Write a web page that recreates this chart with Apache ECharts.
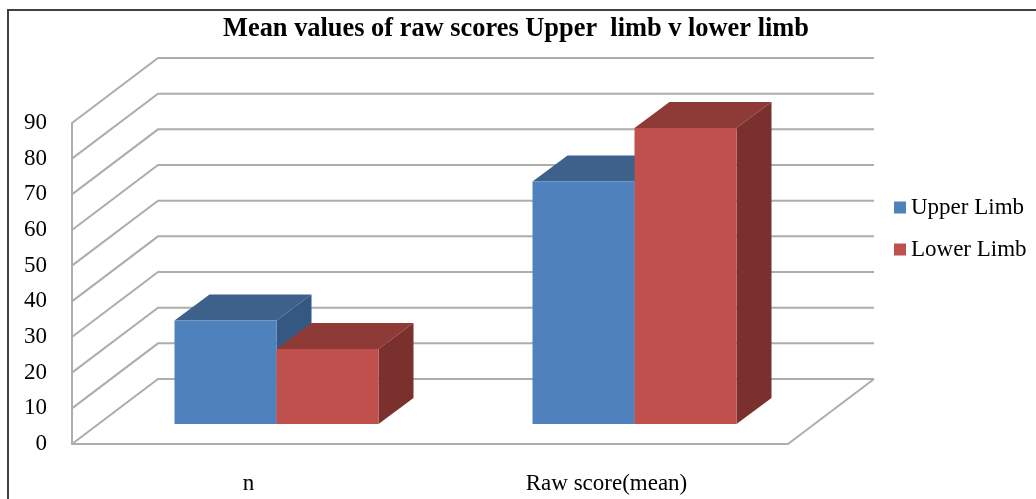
<!DOCTYPE html>
<html>
<head>
<meta charset="utf-8">
<style>html,body{margin:0;padding:0;background:#fff}#c{width:1036px;height:499px}</style>
<script src="https://cdn.jsdelivr.net/npm/echarts@6/dist/echarts.min.js"></script>
</head>
<body>
<div id="c"></div>
<script>
var categories = ['n', 'Raw score(mean)'];
var upperLimb = [29, 68];
var lowerLimb = [21, 83];
var yTicks = [0, 10, 20, 30, 40, 50, 60, 70, 80, 90];
var titleText = 'Mean values of raw scores Upper  limb v lower limb';

var FONT = '"Liberation Serif","Times New Roman",serif';
var wallDepth = [86, -65];
var barOffset = [25.5, -20];
var barDepth = [35, -26];
var barWidth = 102;

function wallItem(params, api) {
  var v = api.value(0);
  var p = api.coord([0, v]);
  var cs = params.coordSys;
  var x0 = cs.x, y = p[1];
  return {
    type: 'polyline',
    shape: { points: [[x0, y], [x0 + wallDepth[0], y + wallDepth[1]], [x0 + cs.width + wallDepth[0], y + wallDepth[1]]] },
    style: { fill: null, stroke: '#adadad', lineWidth: 2 }
  };
}
function floorEdge(params, api) {
  var cs = params.coordSys;
  var y = api.coord([0, 0])[1];
  var x = cs.x + cs.width;
  return {
    type: 'line',
    shape: { x1: x, y1: y, x2: x + wallDepth[0], y2: y + wallDepth[1] },
    style: { stroke: '#adadad', lineWidth: 2 }
  };
}
function barRenderer(slot, front, top, side) {
  return function (params, api) {
    var c = api.value(0), v = api.value(1);
    var pt = api.coord([c, v]), pb = api.coord([c, 0]);
    var xl = pt[0] + barOffset[0] + slot * barWidth;
    var xr = xl + barWidth;
    var yt = pt[1] + barOffset[1];
    var yb = pb[1] + barOffset[1];
    var dx = barDepth[0], dy = barDepth[1];
    return {
      type: 'group',
      children: [
        { type: 'polygon', shape: { points: [[xl, yt], [xr, yt], [xr + dx, yt + dy], [xl + dx, yt + dy]] }, style: { fill: top } },
        { type: 'polygon', shape: { points: [[xr, yt], [xr + dx, yt + dy], [xr + dx, yb + dy], [xr, yb]] }, style: { fill: side } },
        { type: 'rect', shape: { x: xl, y: yt, width: barWidth, height: yb - yt }, style: { fill: front } }
      ]
    };
  };
}
function barData(vals) { return vals.map(function (v, i) { return [i, v]; }); }

var chart = echarts.init(document.getElementById('c'), null, { renderer: 'canvas' });
chart.setOption({
  animation: false,
  backgroundColor: '#fff',
  title: {
    text: titleText, left: 511, top: 11, textAlign: 'center',
    textStyle: { fontFamily: FONT, fontSize: 26.4, fontWeight: 'bold', color: '#000' }
  },
  legend: {
    orient: 'vertical', left: 889, top: 191, itemWidth: 12, itemHeight: 12, itemGap: 19,
    data: ['Upper Limb', 'Lower Limb'], icon: 'rect',
    textStyle: { fontFamily: FONT, fontSize: 23, color: '#000' }
  },
  grid: { left: 72, right: 248, top: 123, bottom: 55 },
  xAxis: {
    type: 'category', data: categories,
    axisLine: { show: true, lineStyle: { color: '#adadad', width: 2 } },
    axisTick: { show: false },
    axisLabel: { fontFamily: FONT, fontSize: 23, color: '#000', margin: 28, padding: [0, 5, 0, 0] }
  },
  yAxis: {
    type: 'value', min: 0, max: 90, interval: 10,
    splitLine: { show: false },
    axisLine: { show: true, lineStyle: { color: '#adadad', width: 2 } },
    axisTick: { show: false },
    axisLabel: { fontFamily: FONT, fontSize: 23, color: '#000', margin: 25, padding: [4, 0, 0, 0] }
  },
  graphic: [{
    type: 'polyline', silent: true, z: -1,
    shape: { points: [[8, 499], [8, 10], [1036, 10]] },
    style: { fill: null, stroke: '#404040', lineWidth: 2 }
  }],
  series: [
    { type: 'custom', name: 'walls', coordinateSystem: 'cartesian2d', z: 1, silent: true, renderItem: wallItem,
      data: yTicks.map(function (t) { return [t]; }), encode: { y: 0 } },
    { type: 'custom', name: 'floor', coordinateSystem: 'cartesian2d', z: 1, silent: true, renderItem: floorEdge,
      data: [[0]], encode: { y: 0 } },
    { type: 'custom', name: 'Upper Limb', coordinateSystem: 'cartesian2d', z: 3,
      renderItem: barRenderer(-1, '#4F81BD', '#3E618C', '#345882'),
      itemStyle: { color: '#4F81BD' }, data: barData(upperLimb), encode: { x: 0, y: 1 } },
    { type: 'custom', name: 'Lower Limb', coordinateSystem: 'cartesian2d', z: 4,
      renderItem: barRenderer(0, '#C0504D', '#8E3A37', '#7A302D'),
      itemStyle: { color: '#C0504D' }, data: barData(lowerLimb), encode: { x: 0, y: 1 } }
  ]
});
</script>
</body>
</html>
